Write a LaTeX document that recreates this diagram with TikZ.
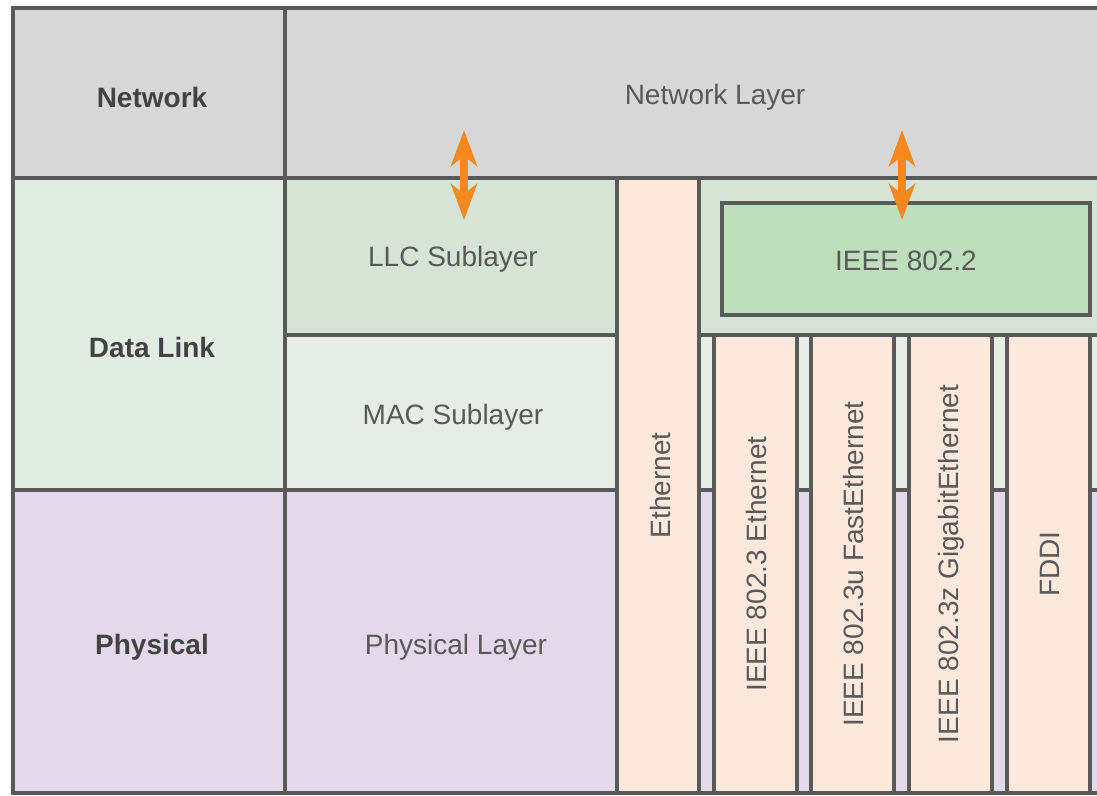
\documentclass[tikz,border=0pt]{standalone}
\usepackage{fontspec}
\setmainfont{Liberation Sans}
\usetikzlibrary{arrows.meta}

\definecolor{linegray}{HTML}{5A5A5A}
\definecolor{textgray}{HTML}{595959}
\definecolor{netgray}{HTML}{D7D7D7}
\definecolor{dlgreen}{HTML}{E0EDE0}
\definecolor{llcgreen}{HTML}{D6E4D6}
\definecolor{macgreen}{HTML}{E6EDE6}
\definecolor{ieeegreen}{HTML}{BEDFBC}
\definecolor{physpurple}{HTML}{E3D9EA}
\definecolor{boxpeach}{HTML}{FCE9DC}
\definecolor{arroworange}{HTML}{F5891F}

\tikzset{
  cell/.style={draw=linegray, line width=2pt},
  lbl/.style={text=textgray, font=\fontsize{14}{17}\selectfont},
  rowlbl/.style={text=textgray!75!black, font=\fontsize{14}{17}\selectfont\bfseries},
  vlbl/.style={lbl, rotate=90},
  updown/.style={draw=arroworange, line width=4pt,
    {Stealth[length=18pt,width=13pt,inset=5pt]}-{Stealth[length=18pt,width=13pt,inset=5pt]}}
}

\begin{document}
\begin{tikzpicture}[x=0.5pt,y=-0.5pt]
        % Definition
        \pgfmathsetmacro{\xl}{13}
        \pgfmathsetmacro{\xa}{285}
        \pgfmathsetmacro{\xb}{617}
        \pgfmathsetmacro{\xc}{699}
        \pgfmathsetmacro{\xr}{1104}
        \pgfmathsetmacro{\yt}{8}
        \pgfmathsetmacro{\ya}{178}
        \pgfmathsetmacro{\yb}{335}
        \pgfmathsetmacro{\yc}{490}
        \pgfmathsetmacro{\yd}{793}

        % Frame
        \useasboundingbox (0,0) rectangle (1097,796);
        \clip (0,0) rectangle (1097,796);

        % Draw the rows
        \path[cell, fill=netgray] (\xl,\yt) rectangle (\xa,\ya);
        \path[cell, fill=netgray] (\xa,\yt) rectangle (\xr,\ya);
        \path[cell, fill=dlgreen] (\xl,\ya) rectangle (\xa,\yc);
        \path[cell, fill=llcgreen] (\xa,\ya) rectangle (\xb,\yb);
        \path[cell, fill=macgreen] (\xa,\yb) rectangle (\xb,\yc);
        \path[cell, fill=physpurple] (\xl,\yc) rectangle (\xa,\yd);
        \path[cell, fill=physpurple] (\xa,\yc) rectangle (\xb,\yd);

        % Draw the right side
        \path[cell, fill=llcgreen] (\xc,\ya) rectangle (\xr,\yb);
        \path[cell, fill=macgreen] (\xc,\yb) rectangle (\xr,\yc);
        \path[cell, fill=physpurple] (\xc,\yc) rectangle (\xr,\yd);
        \path[cell, fill=ieeegreen] (722,203) rectangle (1090,315);
        \path[cell, fill=boxpeach] (\xb,\ya) rectangle (\xc,\yd);

        % Labels
        \node[rowlbl] (network) at (152,97) {Network};
        \node[rowlbl] (datalink) at (152,347) {Data Link};
        \node[rowlbl] (physical) at (152,647) {Physical};
        \node[lbl] (netlayer) at (715,97) {Network Layer};
        \node[lbl] (llc) at (453,259) {LLC Sublayer};
        \node[lbl] (mac) at (453,417) {MAC Sublayer};
        \node[lbl] (phylayer) at (456,647) {Physical Layer};
        \node[lbl] (dot2) at (906,261) {IEEE 802.2};
        \node[vlbl] (ethernet) at (660,{(\ya+\yd)/2}) {Ethernet};

        % Draw the standards
        \foreach \x/\name/\txt in {714/dot3/IEEE 802.3 Ethernet,
                                   811/dot3u/IEEE 802.3u FastEthernet,
                                   909/dot3z/IEEE 802.3z GigabitEthernet,
                                   1007/fddi/FDDI} {
          \path[cell, fill=boxpeach] (\x,\yb) rectangle (\x+83,\yd);
          \node[vlbl] (\name) at (\x+42.5,{(\yb+\yd)/2}) {\txt};
        }

        % Draw the arrows
        \coordinate (llctop) at (464,130);
        \coordinate (llcbot) at (464,220);
        \coordinate (dottop) at (902,130);
        \coordinate (dotbot) at (902,220);
        \draw[updown] (llctop) -- (llcbot);
        \draw[updown] (dottop) -- (dotbot);
\end{tikzpicture}
\end{document}
